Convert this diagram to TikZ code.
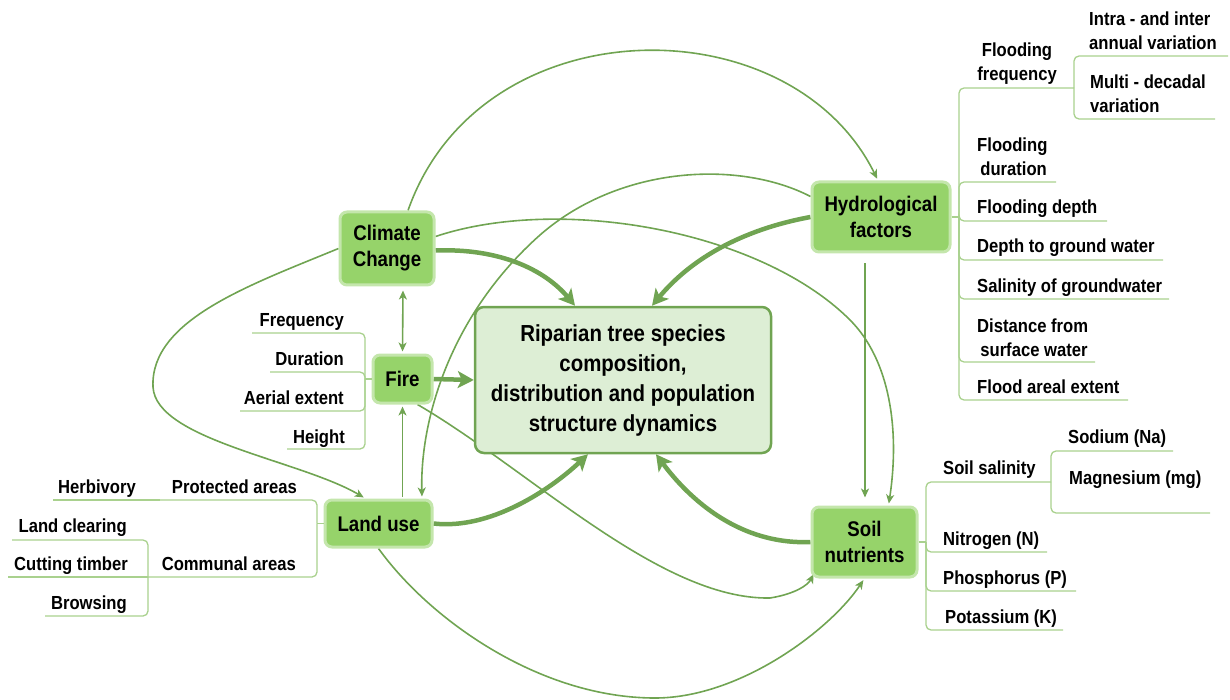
\documentclass[tikz,border=0pt]{standalone}
\usepackage{fontspec}
\newfontfamily\labfont{Liberation Sans}[FakeStretch=0.88]
\usetikzlibrary{arrows.meta,calc}
\definecolor{boxfill}{RGB}{150,211,106}
\definecolor{boxedge}{RGB}{196,230,172}
\definecolor{cenfill}{RGB}{221,238,213}
\definecolor{cenedge}{RGB}{112,164,82}
\definecolor{conn}{RGB}{112,164,82}
\definecolor{branch}{RGB}{169,209,142}
\pgfdeclarelayer{bg}
\pgfsetlayers{bg,main}
\newcommand{\twol}[3]{\begin{tabular}[b]{@{}#1@{}}#2\\#3\end{tabular}}
\begin{document}
\begin{tikzpicture}[x=1pt,y=-1pt,
  factor/.style={draw=boxedge, line width=3pt, fill=boxfill, rounded corners=7pt,
    align=center, inner sep=0pt, font=\labfont\bfseries\fontsize{21.2}{26}\selectfont},
  central/.style={draw=cenedge, line width=2.5pt, fill=cenfill, rounded corners=9pt,
    align=center, inner sep=0pt, font=\labfont\bfseries\fontsize{23.2}{30}\selectfont},
  lab/.style={inner sep=0pt, font=\labfont\bfseries\fontsize{18.9}{24}\selectfont},
  thinarr/.style={draw=conn, line width=1.6pt, -{Stealth[length=9pt,width=8pt,inset=2.5pt]}, shorten >=2pt},
  dblarr/.style={draw=conn, line width=1.6pt, {Stealth[length=9pt,width=8pt,inset=2.5pt]}-{Stealth[length=9pt,width=8pt,inset=2.5pt]}, shorten >=2pt, shorten <=4pt},
  thickarr/.style={draw=conn, line width=4.5pt, -{Stealth[length=16pt,width=17pt,inset=4pt]}},
  br/.style={draw=branch, line width=1.3pt, rounded corners=5pt}]
\useasboundingbox (0,0) rectangle (1230,700);

% main nodes
\node[factor, minimum width=94pt, minimum height=73pt] (cc) at (387,248.5) {Climate\\Change};
\node[factor, minimum width=59pt, minimum height=48pt] (fi) at (402.5,379) {Fire};
\node[factor, minimum width=107pt, minimum height=47pt] (lu) at (378.5,523.5) {Land use};
\node[factor, minimum width=138pt, minimum height=70pt] (hy) at (881,217) {Hydrological\\factors};
\node[factor, minimum width=105pt, minimum height=70pt] (so) at (864.5,542) {Soil\\nutrients};
\node[central, minimum width=296pt, minimum height=146pt] (ce) at (623,380)
  {Riparian tree species\\composition,\\distribution and population\\structure dynamics};

% connectors
\begin{pgfonlayer}{bg}
\draw[thinarr] ([xshift=21pt]cc.north) .. controls (480,5) and (790,2) .. ([xshift=-3pt]hy.north);
\draw[thinarr] ([yshift=-16pt]hy.north west) .. controls (740,160) and (620,165) .. (540,235)
  .. controls (450,315) and (420,420) .. ([xshift=43.5pt]lu.north);
\draw[thinarr] ([yshift=12pt]cc.east) .. controls (560,195) and (760,230) .. (850,320)
  .. controls (890,360) and (900,430) .. ([xshift=24pt]so.north);
\draw[thinarr] (cc.west) .. controls (250,285) and (150,320) .. (153,387)
  .. controls (156,440) and (300,460) .. ([xshift=-13pt]lu.north);
\draw[dblarr] ([xshift=16pt]cc.south) -- (fi.north);
\draw[thinarr, shorten <=2pt] ([xshift=24pt]lu.north) -- (fi.south);
\draw[thinarr] ([xshift=15pt]fi.south) .. controls (530,470) and (660,600) .. (770,598)
  .. controls (795,594) and (808,585) .. ([xshift=4pt,yshift=6pt]so.south west);
\draw[thinarr] (lu.south) .. controls (430,620) and (540,698) .. (655,698)
  .. controls (740,698) and (830,630) .. (so.south);
\draw[thinarr, shorten <=10pt, shorten >=8pt] ([xshift=-16pt]hy.south) -- ([xshift=0.5pt]so.north);

\draw[thickarr] ([yshift=-2pt]cc.east) .. controls (500,248) and (545,270) .. ([xshift=-48pt]ce.north);
\draw[thickarr] (hy.west) .. controls (740,230) and (690,260) .. ([xshift=29pt]ce.north);
\draw[thickarr] (fi.east) -- (ce.west);
\draw[thickarr] (lu.east) .. controls (490,530) and (550,490) .. ([xshift=-35pt]ce.south);
\draw[thickarr] (so.west) .. controls (740,545) and (690,500) .. ([xshift=33pt]ce.south);
\end{pgfonlayer}

% Fire branches
\coordinate (fj) at (365,379);
\draw[br] (fi.west) -- (fj);
\draw[br] (fj) |- (252,333);
\draw[br] (fj) |- (270,372);
\draw[br] (fj) |- (240,411);
\draw[br] (fj) |- (287,449);
\node[lab, anchor=base east] (f1) at (344,326) {Frequency};
\node[lab, anchor=base east] (f2) at (344,365) {Duration};
\node[lab, anchor=base east] (f3) at (344,404) {Aerial extent};
\node[lab, anchor=base east] (f4) at (345,443) {Height};

% Land use branches
\coordinate (lj) at (317,523.5);
\coordinate (pj) at (160,500);
\coordinate (cj) at (148,577);
\draw[br] (lu.west) -- (lj);
\draw[br] (lj) |- (pj);
\draw[br] (pj) -- (53,500);
\draw[br] (lj) |- (cj);
\draw[br] (cj) |- (12,540);
\draw[br] (cj) -- (8,577);
\draw[br] (cj) |- (45,616);
\node[lab, anchor=base east] (u1) at (136,493) {Herbivory};
\node[lab, anchor=base east] (u2) at (297,493) {Protected areas};
\node[lab, anchor=base east] (u3) at (127,532) {Land clearing};
\node[lab, anchor=base east] (u4) at (128,570) {Cutting timber};
\node[lab, anchor=base east] (u5) at (296,570) {Communal areas};
\node[lab, anchor=base east] (u6) at (127,609) {Browsing};

% Hydrological branches
\coordinate (hj) at (959,217);
\coordinate (ffj) at (1074,88);
\draw[br] (hy.east) -- (hj);
\draw[br] (hj) |- (ffj);
\draw[br] (hj) |- (1056,182);
\draw[br] (hj) |- (1107,221);
\draw[br] (hj) |- (1163,260);
\draw[br] (hj) |- (1169,299);
\draw[br] (hj) |- (1095,362);
\draw[br] (hj) |- (1128,400);
\draw[br] (ffj) |- (1228,56);
\draw[br] (ffj) |- (1215,119);
\node[lab, anchor=base] (h1) at (1017,81) {\twol{c}{Flooding}{frequency}};
\node[lab, anchor=base west] (h2) at (1089,50) {\twol{l}{Intra - and inter}{annual variation}};
\node[lab, anchor=base west] (h3) at (1090,113) {\twol{l}{Multi - decadal}{variation}};
\node[lab, anchor=base west] (h4) at (977,176) {\twol{l}{Flooding}{\,duration}};
\node[lab, anchor=base west] (h5) at (977,214) {Flooding depth};
\node[lab, anchor=base west] (h6) at (977,253) {Depth to ground water};
\node[lab, anchor=base west] (h7) at (977,292) {Salinity of groundwater};
\node[lab, anchor=base west] (h8) at (977,356) {\twol{l}{Distance from}{\,surface water}};
\node[lab, anchor=base west] (h9) at (977,393) {Flood areal extent};

% Soil branches
\coordinate (sj) at (926,542);
\coordinate (ssj) at (1051,482);
\draw[br] (so.east) -- (sj);
\draw[br] (sj) |- (ssj);
\draw[br] (sj) |- (1047,552);
\draw[br] (sj) |- (1076,591);
\draw[br] (sj) |- (1063,630);
\draw[br] (ssj) |- (1173,451);
\draw[br] (ssj) |- (1210,513);
\node[lab, anchor=base west] (s1) at (943,474) {Soil salinity};
\node[lab, anchor=base west] (s2) at (1068,443) {Sodium (Na)};
\node[lab, anchor=base west] (s3) at (1069,484) {Magnesium (mg)};
\node[lab, anchor=base west] (s4) at (943,545) {Nitrogen (N)};
\node[lab, anchor=base west] (s5) at (943,584) {Phosphorus (P)};
\node[lab, anchor=base west] (s6) at (945,623) {Potassium (K)};
\end{tikzpicture}
\end{document}
